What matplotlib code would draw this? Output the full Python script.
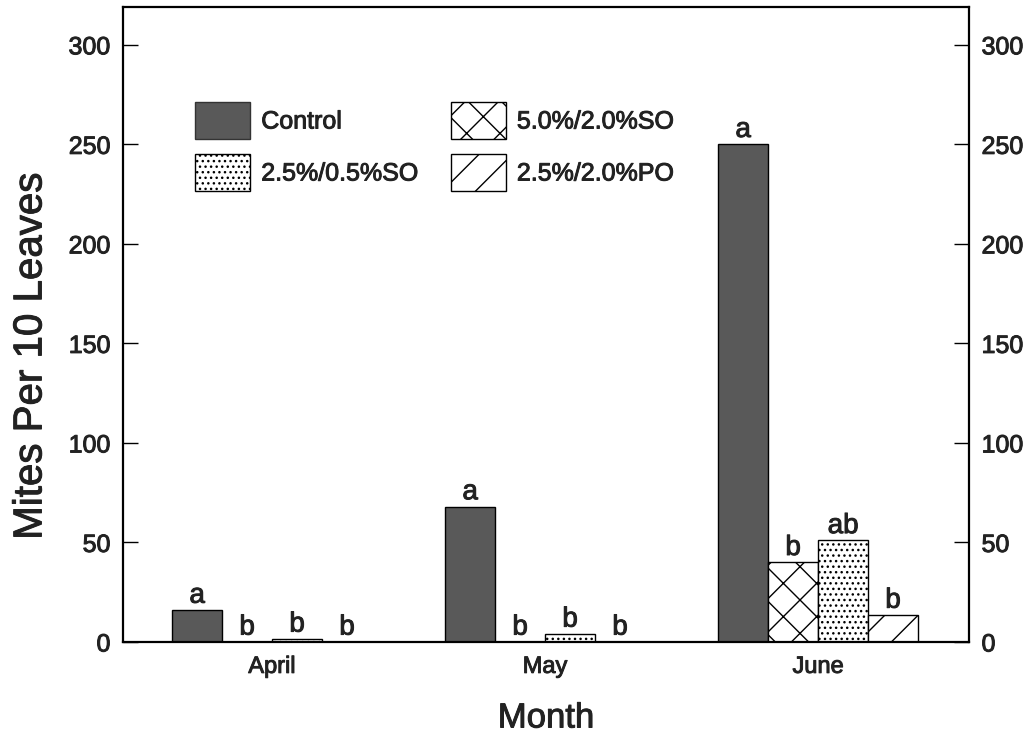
import numpy as np
import matplotlib
matplotlib.use('Agg')
import matplotlib.pyplot as plt
import matplotlib.patheffects as pe
from matplotlib.patches import Patch

plt.rcParams['font.family'] = ['Liberation Sans', 'DejaVu Sans']
plt.rcParams['hatch.linewidth'] = 1.0

# datos
months = ['April', 'May', 'June']
treatments = ['Control', '2.5%/0.5%SO', '5.0%/2.0%SO', '2.5%/2.0%PO']
control = [16, 68, 250]
so_25_05 = [1.5, 4, 51]
so_50_20 = [0, 0, 40]
po_25_20 = [0, 0, 13.5]
letters_control = ['a', 'a', 'a']
letters_so_50_20 = ['b', 'b', 'b']
letters_so_25_05 = ['b', 'b', 'ab']
letters_po_25_20 = ['b', 'b', 'b']

# trazo fino para imitar la tinta del escaneo
ink = [pe.withStroke(linewidth=0.7, foreground='#222222')]

# orden de las barras dentro de cada mes
series = [
    (control, letters_control, dict(facecolor='#595959', hatch=None)),
    (so_50_20, letters_so_50_20, dict(facecolor='white', hatch='x')),
    (so_25_05, letters_so_25_05, dict(facecolor='white', hatch='...')),
    (po_25_20, letters_po_25_20, dict(facecolor='white', hatch='/')),
]

fig = plt.figure(figsize=(10.32, 7.38), dpi=100)
ax = fig.add_axes([0.1192, 0.1301, 0.8198, 0.8604])

x = np.arange(len(months))
w = 0.183
offsets = [-1.5 * w, -0.5 * w, 0.5 * w, 1.5 * w]

for (vals, letters, style), off in zip(series, offsets):
    bars = ax.bar(x + off, vals, width=w, edgecolor='black', linewidth=1.0, **style)
    for b, lab in zip(bars, letters):
        ax.annotate(lab, (b.get_x() + b.get_width() / 2, b.get_height()),
                    xytext=(0, 1), textcoords='offset points',
                    ha='center', va='bottom', fontsize=20, color='#222222',
                    path_effects=ink)

ax.set_xlim(-0.546, 2.553)
ax.set_ylim(0, 319)
ax.set_yticks([0, 50, 100, 150, 200, 250, 300])
ax.set_xticks(x)
ax.set_xticklabels(months)

ax.tick_params(axis='y', which='both', direction='in', length=11, width=1.0,
               left=True, right=True, labelleft=True, labelright=True,
               labelsize=18, pad=9, labelcolor='#222222')
ax.tick_params(axis='x', length=0, labelsize=17, pad=10, labelcolor='#222222')
for t in ax.get_xticklabels() + ax.get_yticklabels():
    t.set_path_effects(ink)
for t in ax.yaxis.get_major_ticks():
    t.label2.set_path_effects(ink)

for s in ax.spines.values():
    s.set_linewidth(1.6)

ax.set_ylabel('Mites Per 10 Leaves', fontsize=29, color='#222222', path_effects=ink)
ax.yaxis.set_label_coords(-0.087, 0.45)
ax.set_xlabel('Month', fontsize=25, labelpad=17, color='#222222', path_effects=ink)

handles = [
    Patch(facecolor='#595959', edgecolor='#333333', label=treatments[0]),
    Patch(facecolor='white', edgecolor='black', hatch='...', label=treatments[1]),
    Patch(facecolor='white', edgecolor='black', hatch='x', label=treatments[2]),
    Patch(facecolor='white', edgecolor='black', hatch='/', label=treatments[3]),
]
leg = ax.legend(handles=handles, ncol=2, loc='upper left',
                bbox_to_anchor=(195 / 1032, 1 - 102 / 738), bbox_transform=fig.transFigure,
                frameon=False, fontsize=18, handlelength=2.2, handleheight=1.9,
                handletextpad=0.45, labelspacing=0.6, columnspacing=1.3,
                borderpad=0, borderaxespad=0)
for t in leg.get_texts():
    t.set_color('#222222')
    t.set_path_effects(ink)

fig.savefig('out.png', dpi=100)
